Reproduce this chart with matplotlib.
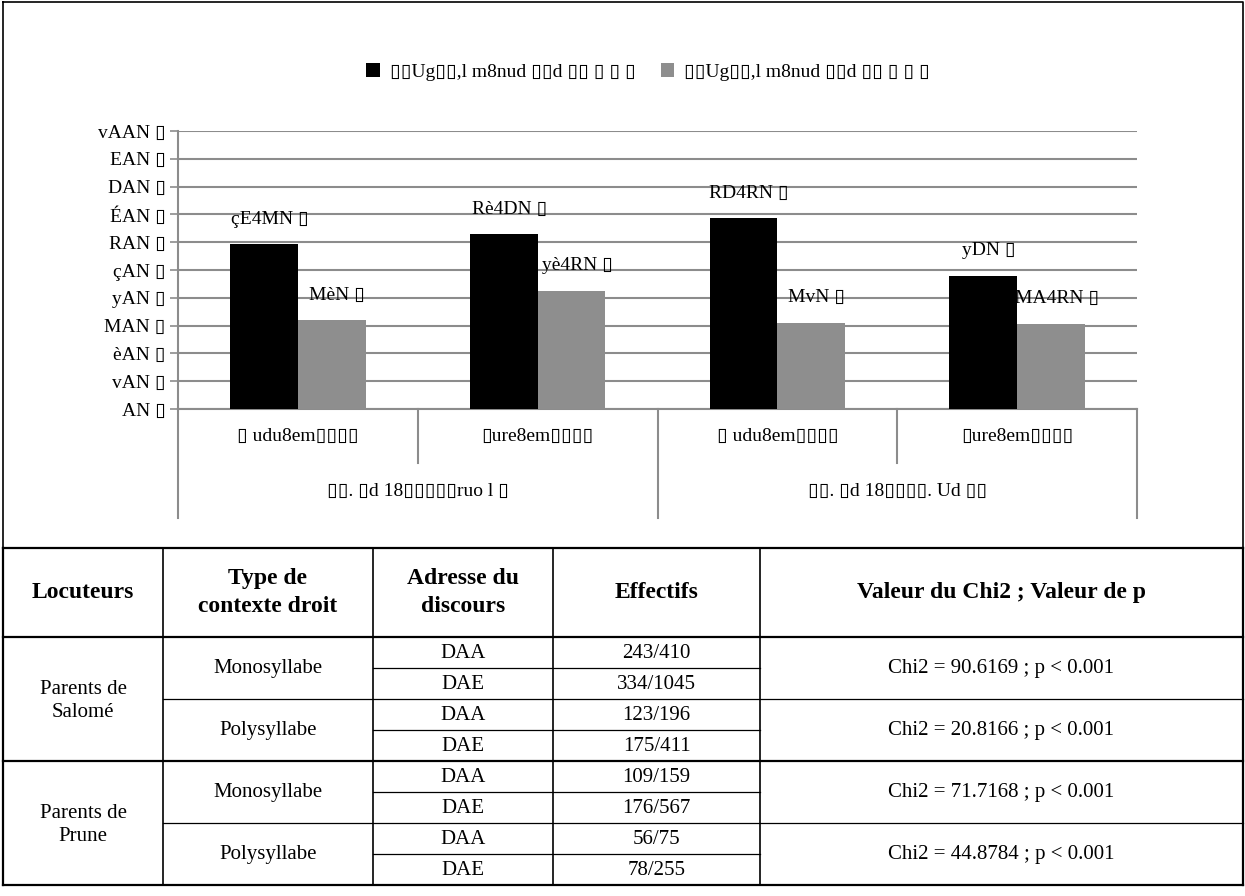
import matplotlib.pyplot as plt
import numpy as np

plt.rcParams['font.family'] = ['Liberation Serif', 'DejaVu Sans']

# garbled chart text, copied as it appears
B = '\u25af'
legend_labels = [B + B + 'Ug' + B + B + ',l m8nud ' + B + B + 'd ' + B + B + ' ' + B + ' ' + B + ' ' + B,
                 B + B + 'Ug' + B + B + ',l m8nud ' + B + B + 'd ' + B + B + ' ' + B + ' ' + B + ' ' + B]
ytick_labels = ['AN ', 'vAN ', 'èAN ', 'MAN ', 'yAN ', 'çAN ', 'RAN ', 'ÉAN ', 'DAN ', 'EAN ', 'vAAN ']
ytick_values = [0, 10, 20, 30, 40, 50, 60, 70, 80, 90, 100]
sub_labels = [B + ' udu8em' + B * 4, B + 'ure8em' + B * 4,
              B + ' udu8em' + B * 4, B + 'ure8em' + B * 4]
group_labels = [B + B + '. ' + B + 'd 18' + B * 5 + 'ruo l ' + B,
                B + B + '. ' + B + 'd 18' + B * 4 + '. Ud ' + B + B]

daa = [59.3, 62.8, 68.6, 48]
dae = [32, 42.6, 31, 30.6]
daa_text = ['çE4MN ', 'Rè4DN ', 'RD4RN ', 'yDN ']
dae_text = ['MèN ', 'yè4RN ', 'MvN ', 'MA4RN ']

# table
header = ['Locuteurs', 'Type de\ncontexte droit', 'Adresse du\ndiscours', 'Effectifs',
          'Valeur du Chi2 ; Valeur de p']
speakers = ['Parents de\nSalomé', 'Parents de\nPrune']
contexts = ['Monosyllabe', 'Polysyllabe']
addresses = ['DAA', 'DAE']
counts = ['243/410', '334/1045', '123/196', '175/411',
          '109/159', '176/567', '56/75', '78/255']
chi2 = ['Chi2 = 90.6169 ; p < 0.001', 'Chi2 = 20.8166 ; p < 0.001',
        'Chi2 = 71.7168 ; p < 0.001', 'Chi2 = 44.8784 ; p < 0.001']

W, H = 1245, 896
fig = plt.figure(figsize=(W / 100, H / 100), dpi=100)

# overlay in pixel coordinates for frame and table
ov = fig.add_axes([0, 0, 1, 1])
ov.set_xlim(0, W)
ov.set_ylim(H, 0)
ov.axis('off')

# chart frame
ov.plot([3, 1243, 1243, 3, 3], [2, 2, 548, 548, 2], color='black', lw=1.2)

# bar chart
ax = fig.add_axes([178 / W, 1 - 409 / H, (1137 - 178) / W, (409 - 131) / H])
x = np.arange(len(daa))
w = 0.283
grey = '#8e8e8e'
ax.bar(x - w / 2, daa, w, color='black', zorder=3, label=legend_labels[0])
ax.bar(x + w / 2, dae, w, color=grey, zorder=3, label=legend_labels[1])
for i in range(len(daa)):
    ax.annotate(daa_text[i] + B, (x[i] - w / 2, daa[i]), xytext=(4, 18),
                textcoords='offset points', ha='center', va='center', fontsize=14)
    ax.annotate(dae_text[i] + B, (x[i] + w / 2, dae[i]), xytext=(4, 18),
                textcoords='offset points', ha='center', va='center', fontsize=14)

ax.set_xlim(-0.5, len(daa) - 0.5)
ax.set_ylim(0, 100)
ax.set_yticks(ytick_values)
ax.set_yticklabels([t + B for t in ytick_labels], fontsize=14)
ax.set_xticks([])
ax.yaxis.grid(True, color='#8c8c8c', lw=1.5, zorder=0)
ax.tick_params(axis='y', length=6, width=1.2, color='#8c8c8c', pad=3)
for s in ['top', 'right']:
    ax.spines[s].set_visible(False)
ax.spines['left'].set_color('#8c8c8c')
ax.spines['left'].set_linewidth(1.5)
ax.spines['bottom'].set_color('#8c8c8c')
ax.spines['bottom'].set_linewidth(1.5)

# two-level category axis
tr = ax.get_xaxis_transform()
for xi, depth in zip(np.arange(-0.5, len(daa)), [-0.392, -0.194, -0.392, -0.194, -0.392]):
    ax.plot([xi, xi], [0, depth], color='#8c8c8c', lw=1.5, transform=tr, clip_on=False)
for i, lab in enumerate(sub_labels):
    ax.text(x[i], -0.1, lab, transform=tr, ha='center', va='center', fontsize=14)
for j, lab in enumerate(group_labels):
    ax.text(0.5 + 2 * j, -0.295, lab, transform=tr, ha='center', va='center', fontsize=14)

ax.legend(loc='center', bbox_to_anchor=(0.49, 1.212), ncol=2, frameon=False,
          fontsize=14, handlelength=0.7, handleheight=0.7, columnspacing=1.3,
          handletextpad=0.5)

# table
cols = [3, 163, 373, 553, 760, 1243]
top, head_bot = 548, 637
row_h = 31
rows = [head_bot + row_h * k for k in range(9)]
bottom = rows[-1]

def hline(y, x0, x1, lw):
    ov.plot([x0, x1], [y, y], color='black', lw=lw, solid_capstyle='projecting')

def vline(xv, y0, y1, lw):
    ov.plot([xv, xv], [y0, y1], color='black', lw=lw, solid_capstyle='projecting')

hline(top, cols[0], cols[-1], 1.6)
hline(head_bot, cols[0], cols[-1], 1.6)
hline(rows[4], cols[0], cols[-1], 1.6)
hline(bottom, cols[0], cols[-1], 1.6)
for k in [2, 6]:
    hline(rows[k], cols[1], cols[-1], 0.9)
for k in [1, 3, 5, 7]:
    hline(rows[k], cols[2], cols[4], 0.9)
for c in cols:
    vline(c, top, bottom, 1.6 if c in (cols[0], cols[-1]) else 1.2)

for i, h in enumerate(header):
    ov.text((cols[i] + cols[i + 1]) / 2, (top + head_bot) / 2, h, ha='center', va='center',
            fontsize=17, fontweight='bold', linespacing=1.45)

for s, sp in enumerate(speakers):
    ov.text((cols[0] + cols[1]) / 2, (rows[4 * s] + rows[4 * s + 4]) / 2 + 2, sp,
            ha='center', va='center', fontsize=15, linespacing=1.3)
    for c, ct in enumerate(contexts):
        k = 4 * s + 2 * c
        ov.text((cols[1] + cols[2]) / 2, (rows[k] + rows[k + 2]) / 2, ct,
                ha='center', va='center', fontsize=15)
        ov.text((cols[4] + cols[5]) / 2, (rows[k] + rows[k + 2]) / 2, chi2[2 * s + c],
                ha='center', va='center', fontsize=15)
        for a, ad in enumerate(addresses):
            yc = (rows[k + a] + rows[k + a + 1]) / 2 + 1
            ov.text((cols[2] + cols[3]) / 2, yc, ad, ha='center', va='center', fontsize=15)
            ov.text((cols[3] + cols[4]) / 2, yc, counts[k + a], ha='center', va='center',
                    fontsize=15)

fig.savefig('out.png', dpi=100)
